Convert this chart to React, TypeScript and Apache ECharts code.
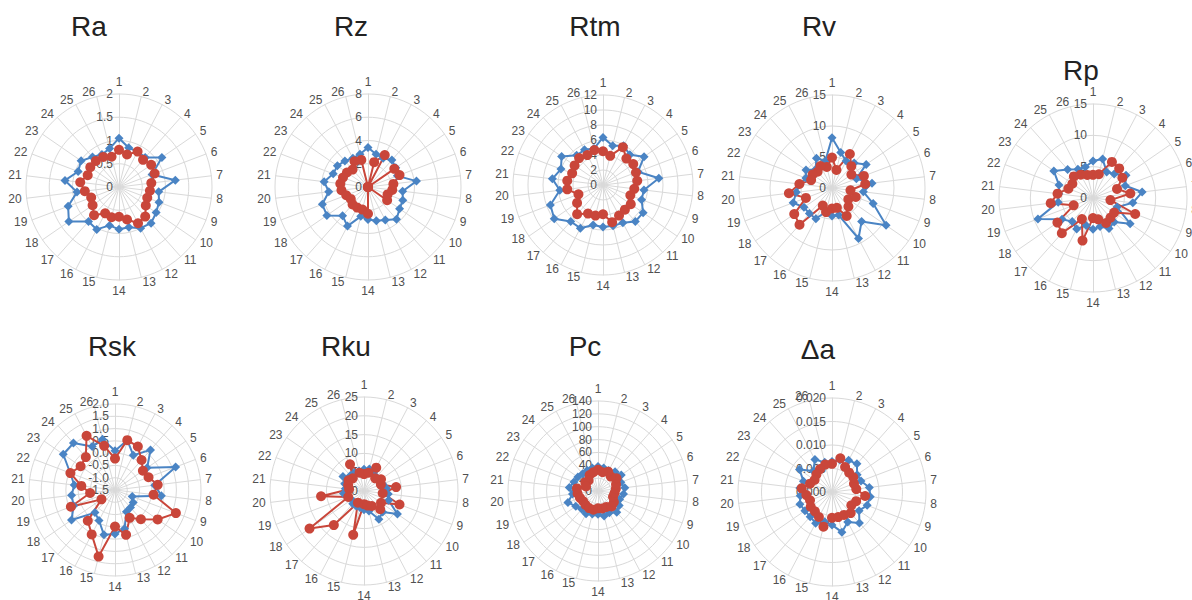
import React, { useEffect, useRef } from 'react';
import * as echarts from 'echarts';

// indicator labels (points 1..26, clockwise from the top)
const pointLabels = ['1','2','3','4','5','6','7','8','9','10','11','12','13','14','15','16','17','18','19','20','21','22','23','24','25','26'];

const titles = ['Ra', 'Rz', 'Rtm', 'Rv', 'Rp', 'Rsk', 'Rku', 'Pc', 'Δa'];

// axis ranges: [min, max, splitNumber, decimals]
const raAxis = [0, 2, 4, -1];
const rzAxis = [0, 8, 4, -1];
const rtmAxis = [0, 12, 6, -1];
const rvAxis = [0, 15, 3, -1];
const rpAxis = [0, 15, 3, -1];
const rskAxis = [-1.5, 2.0, 7, 1];
const rkuAxis = [0, 25, 5, -1];
const pcAxis = [0, 140, 7, -1];
const daAxis = [0, 0.02, 4, 3];

// series values (blue = first series, red = second series)
const raBlue = [1.05, 0.87, 0.86, 0.85, 1.12, 0.76, 1.22, 0.86, 0.92, 0.97, 1.04, 1.0, 0.89, 0.91, 0.85, 1.03, 0.99, 1.31, 1.17, 0.91, 1.17, 0.94, 0.99, 0.86, 0.79, 0.85];
const raRed = [0.8, 0.72, 0.86, 0.78, 0.84, 0.82, 0.7, 0.67, 0.65, 0.7, 0.85, 0.88, 0.72, 0.64, 0.67, 0.64, 0.81, 0.69, 0.64, 0.74, 0.84, 0.72, 0.75, 0.75, 0.73, 0.67];

const rzBlue = [3.4, 2.9, 2.8, 3.1, 2.9, 2.7, 4.2, 3.0, 3.2, 3.3, 3.7, 3.2, 3.0, 2.8, 2.6, 3.8, 3.3, 4.3, 4.2, 3.4, 3.8, 3.2, 3.2, 3.0, 2.8, 2.9];
const rzRed = [0, 2.2, 3.1, 0, 2.75, 2.9, 2.2, 2.1, 1.8, 2.0, 0, 0, 0, 2.3, 2.0, 2.0, 2.0, 1.8, 2.0, 2.3, 2.4, 2.3, 2.2, 2.0, 2.5, 2.4];

const rtmBlue = [6.35, 5.4, 5.9, 5.4, 6.65, 5.0, 7.5, 5.5, 5.5, 6.5, 6.5, 5.7, 5.6, 5.6, 5.5, 6.5, 6.5, 7.9, 7.5, 5.8, 6.8, 6.0, 6.7, 5.3, 5.3, 5.0];
const rtmRed = [4.5, 4.0, 5.7, 4.7, 4.9, 4.7, 4.6, 4.2, 3.9, 4.5, 4.4, 4.6, 5.1, 3.9, 4.2, 4.3, 5.2, 4.2, 3.5, 4.8, 4.8, 4.4, 4.6, 4.8, 4.5, 4.8];

const rvBlue = [8.1, 5.9, 4.9, 5.4, 6.7, 4.2, 6.5, 5.1, 7.1, 10.6, 7.2, 9.2, 4.5, 4.5, 3.9, 5.6, 5.5, 5.5, 6.7, 5.8, 5.2, 4.5, 5.1, 4.0, 5.4, 4.5];
const rvRed = [4.9, 3.0, 6.2, 4.7, 3.8, 5.5, 5.4, 3.0, 4.1, 3.2, 4.0, 5.1, 3.3, 3.3, 4.0, 3.2, 7.9, 7.4, 4.5, 7.0, 5.3, 3.6, 3.8, 3.5, 4.0, 3.5];

const rpBlue = [5.9, 6.4, 4.7, 5.1, 6.4, 5.5, 7.9, 6.4, 4.1, 7.2, 5.1, 5.5, 4.7, 5.0, 4.5, 5.6, 5.0, 6.0, 9.4, 5.6, 5.5, 5.8, 7.6, 6.1, 5.2, 5.1];
const rpRed = [3.7, 3.9, 6.5, 6.3, 5.7, 4.1, 6.0, 2.8, 7.2, 4.1, 4.2, 4.5, 3.5, 3.2, 7.0, 3.8, 7.5, 6.9, 3.3, 6.8, 5.7, 4.2, 4.0, 4.6, 4.2, 3.8];

const rskBlue = [0.1, 0.59, 0.1, 0.68, 0.09, 1.14, 0.13, 0.4, -0.75, -0.6, -0.55, -0.5, 0.12, 0.29, 0.38, -0.1, -0.27, 0.65, 0.3, 0.28, 0.17, 0.45, 1.06, 1.05, 0.5, 0.63];
const rskRed = [-0.22, 0.59, 0.5, 0.13, -0.12, -0.04, 0.25, 0.08, 1.15, 0.61, 0.09, -0.22, 0.38, -0.01, 1.29, 0.54, 0.17, -0.83, 0.42, -0.48, -0.12, 0.44, 0.2, 0.29, 0.99, 0.35];

const rkuBlue = [5.8, 6.0, 5.5, 5.0, 5.5, 5.3, 6.0, 6.5, 7.0, 10.8, 7.5, 8.5, 5.5, 5.0, 4.5, 4.5, 4.5, 4.0, 4.5, 5.5, 5.0, 5.5, 6.8, 5.5, 5.5, 5.5];
const rkuRed = [4.5, 5.0, 7.0, 4.5, 5.5, 4.8, 8.6, 5.0, 10.1, 5.5, 6.5, 4.5, 4.0, 3.5, 12.0, 3.5, 12.1, 17.6, 4.5, 11.5, 4.0, 4.5, 5.0, 4.5, 8.0, 5.0];

const pcBlue = [38, 37, 36, 40, 44, 38, 42, 40, 36, 40, 44, 38, 40, 36, 37, 40, 38, 42, 50, 40, 45, 40, 38, 36, 36, 37];
const pcRed = [33, 30, 34, 30, 35, 30, 28, 26, 25, 30, 32, 28, 28, 27, 30, 30, 29, 28, 30, 32, 33, 20, 24, 22, 28, 30];

const daBlue = [0.0065, 0.007, 0.0076, 0.008, 0.0065, 0.0066, 0.008, 0.0082, 0.008, 0.007, 0.0088, 0.0072, 0.0088, 0.007, 0.0065, 0.0075, 0.007, 0.007, 0.0073, 0.0068, 0.0069, 0.0065, 0.0084, 0.006, 0.0078, 0.0065];
const daRed = [0.006, 0.0074, 0.006, 0.0055, 0.0055, 0.005, 0.0052, 0.0071, 0.0055, 0.005, 0.006, 0.0055, 0.0055, 0.0055, 0.0076, 0.006, 0.0055, 0.0055, 0.005, 0.0055, 0.0065, 0.005, 0.0045, 0.005, 0.0055, 0.006];

const axes = [raAxis, rzAxis, rtmAxis, rvAxis, rpAxis, rskAxis, rkuAxis, pcAxis, daAxis];
const blues = [raBlue, rzBlue, rtmBlue, rvBlue, rpBlue, rskBlue, rkuBlue, pcBlue, daBlue];
const reds = [raRed, rzRed, rtmRed, rvRed, rpRed, rskRed, rkuRed, pcRed, daRed];

// layout (pixels)
const layout = [
  { cx: 119, cy: 187, r: 93, tx: 89, ty: 26 },
  { cx: 368, cy: 187, r: 93, tx: 351, ty: 26 },
  { cx: 603, cy: 185, r: 90, tx: 595, ty: 26 },
  { cx: 832, cy: 188, r: 93, tx: 819, ty: 26 },
  { cx: 1093, cy: 198, r: 94, tx: 1081, ty: 70 },
  { cx: 115, cy: 490, r: 86, tx: 112, ty: 346 },
  { cx: 364, cy: 491, r: 94, tx: 346, ty: 346 },
  { cx: 598, cy: 491, r: 90, tx: 585, ty: 346 },
  { cx: 832, cy: 492, r: 94, tx: 818, ty: 349 },
];

const BLUE = '#4a84c4';
const RED = '#c9463a';
const GRID = '#d9d9d9';
const TEXT = '#505050';
const FONT = 'Liberation Sans, Arial, sans-serif';

// ECharts places radar indicators counter-clockwise; reorder so 1,2,3... run clockwise.
const order = [0, 25, 24, 23, 22, 21, 20, 19, 18, 17, 16, 15, 14, 13, 12, 11, 10, 9, 8, 7, 6, 5, 4, 3, 2, 1];

export default function App() {
  const ref = useRef<HTMLDivElement>(null);
  useEffect(() => {
    if (!ref.current) return;
    const chart = echarts.init(ref.current, undefined, { renderer: 'svg' });
    const radar = axes.map((ax, i) => {
      const [mn, mx, split, dec] = ax as number[];
      const L = layout[i];
      return {
        center: [L.cx, L.cy],
        radius: L.r,
        shape: 'circle',
        startAngle: 90,
        splitNumber: split,
        nameGap: 5,
        axisName: { color: TEXT, fontSize: 12, fontFamily: FONT },
        indicator: order.map((k, j) => {
          const ind: any = { name: pointLabels[k], min: mn, max: mx };
          if (j !== 0) ind.axisLabel = { show: false };
          return ind;
        }),
        axisLine: { lineStyle: { color: GRID, width: 1 } },
        splitLine: { lineStyle: { color: GRID, width: 1 } },
        splitArea: { show: false },
        axisTick: { show: false },
        axisLabel: {
          show: true,
          color: TEXT,
          fontSize: 12,
          margin: 6,
          fontFamily: FONT,
          showMinLabel: true,
          showMaxLabel: true,
          formatter: (v: number) => (dec >= 0 ? Number(v).toFixed(dec) : String(Math.round(v * 1000) / 1000)),
        },
      };
    });
    const series = blues.map((b, i) => ({
      type: 'radar',
      radarIndex: i,
      z: 3,
      data: [
        {
          value: order.map((k) => b[k]),
          symbol: 'diamond',
          symbolSize: 9,
          lineStyle: { color: BLUE, width: 2 },
          itemStyle: { color: BLUE },
        },
        {
          value: order.map((k) => reds[i][k]),
          symbol: 'circle',
          symbolSize: 10,
          lineStyle: { color: RED, width: 2 },
          itemStyle: { color: RED },
        },
      ],
    }));
    const graphic = titles.map((t, i) => ({
      type: 'text',
      x: layout[i].tx,
      y: layout[i].ty,
      style: {
        text: t,
        fill: '#222',
        fontSize: 28,
        fontFamily: FONT,
        textAlign: 'center',
        textVerticalAlign: 'middle',
      },
    }));
    chart.setOption({
      animation: false,
      backgroundColor: '#fff',
      radar,
      series,
      graphic,
    } as any);
    return () => chart.dispose();
  }, []);
  return <div ref={ref} style={{ position: 'absolute', left: 0, top: 0, width: 1192, height: 600 }} />;
}
